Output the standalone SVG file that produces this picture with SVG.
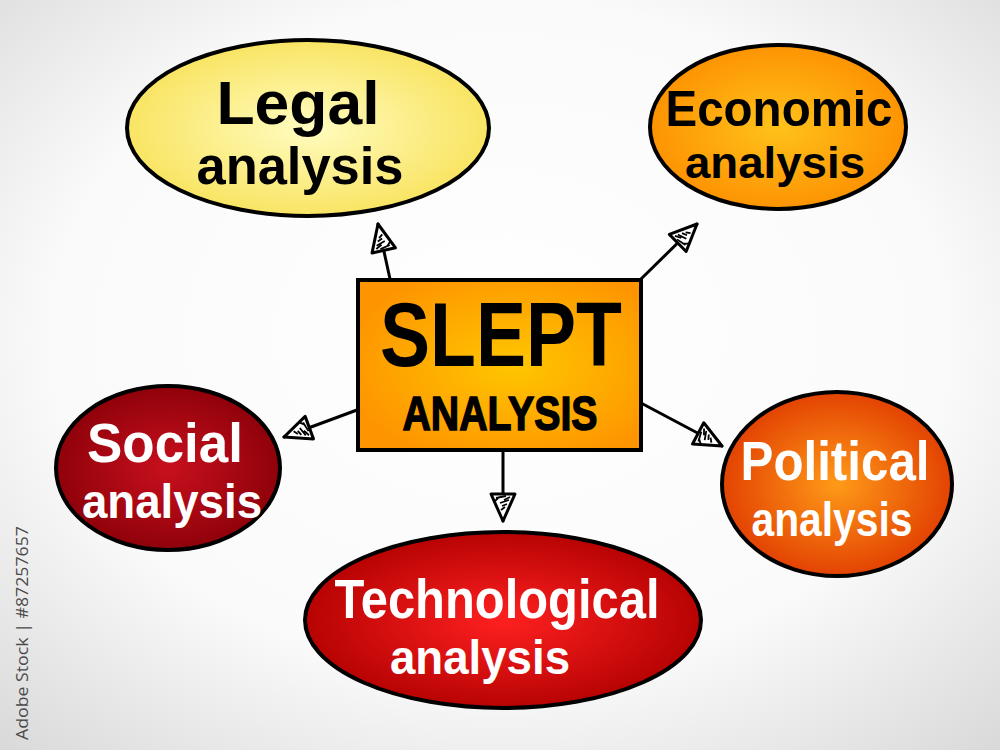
<svg xmlns="http://www.w3.org/2000/svg" width="1000" height="750" viewBox="0 0 1000 750">
<defs>
<radialGradient id="bg" cx="50%" cy="45%" r="75%">
<stop offset="0" stop-color="#ffffff"/><stop offset="0.6" stop-color="#fafafa"/><stop offset="1" stop-color="#d8d8d8"/>
</radialGradient>
<radialGradient id="gLegal" cx="50%" cy="50%" r="55%">
<stop offset="0" stop-color="#fffcc0"/><stop offset="1" stop-color="#f8e25a"/>
</radialGradient>
<radialGradient id="gEcon" cx="50%" cy="50%" r="55%">
<stop offset="0" stop-color="#ffc21a"/><stop offset="1" stop-color="#fd8f00"/>
</radialGradient>
<radialGradient id="gSlept" cx="55%" cy="50%" r="60%">
<stop offset="0" stop-color="#ffc600"/><stop offset="1" stop-color="#fe9500"/>
</radialGradient>
<radialGradient id="gSocial" cx="50%" cy="50%" r="55%">
<stop offset="0" stop-color="#c8101e"/><stop offset="1" stop-color="#8a0008"/>
</radialGradient>
<radialGradient id="gPol" cx="50%" cy="50%" r="55%">
<stop offset="0" stop-color="#ff9a18"/><stop offset="1" stop-color="#e03a00"/>
</radialGradient>
<radialGradient id="gTech" cx="50%" cy="50%" r="55%">
<stop offset="0" stop-color="#ff2020"/><stop offset="1" stop-color="#b00000"/>
</radialGradient>
<marker id="arr" viewBox="0 0 32 32" refX="30" refY="16" markerWidth="32" markerHeight="32" markerUnits="userSpaceOnUse" orient="auto">
<path d="M3,4 L30,16 L3,28 Z" fill="#fff" stroke="#000" stroke-width="3" stroke-linejoin="round"/>
<path d="M6,9 L9,15 M9,10 L12,19 M13,12 L15,17 M6,20 L10,24 M16,14 L19,18 M5,13 L7,23" stroke="#000" stroke-width="1.8"/>
</marker>
<style>
.node{stroke:#000;stroke-width:4}
.dk{font-family:"Liberation Sans",Arial,sans-serif;font-weight:700;fill:#000;text-anchor:middle}
.wt{font-family:"Liberation Sans",Arial,sans-serif;font-weight:700;fill:#fff;text-anchor:middle}
.conn{stroke:#000;stroke-width:3;fill:none;stroke-linecap:round}
</style>
</defs>
<rect width="1000" height="750" fill="url(#bg)"/>
<g id="connectors">
<line class="conn" x1="390" y1="279" x2="378" y2="224" marker-end="url(#arr)"/>
<line class="conn" x1="641" y1="279" x2="697" y2="224" marker-end="url(#arr)"/>
<line class="conn" x1="357" y1="410" x2="284" y2="437" marker-end="url(#arr)"/>
<line class="conn" x1="641" y1="403" x2="722" y2="446" marker-end="url(#arr)"/>
<line class="conn" x1="503" y1="450" x2="503" y2="521" marker-end="url(#arr)"/>
</g>
<g id="legal">
<ellipse class="node" cx="308" cy="128" rx="181" ry="88" fill="url(#gLegal)"/>
<text class="dk" x="298" y="124" font-size="62" textLength="163" lengthAdjust="spacingAndGlyphs">Legal</text>
<text class="dk" x="300" y="184" font-size="51" textLength="207" lengthAdjust="spacingAndGlyphs">analysis</text>
</g>
<g id="economic">
<ellipse class="node" cx="778" cy="127" rx="128" ry="82" fill="url(#gEcon)"/>
<text class="dk" x="779" y="126" font-size="50" textLength="227" lengthAdjust="spacingAndGlyphs">Economic</text>
<text class="dk" x="775" y="178" font-size="45" textLength="180" lengthAdjust="spacingAndGlyphs">analysis</text>
</g>
<g id="slept">
<rect class="node" x="358" y="280" width="283" height="170" fill="url(#gSlept)"/>
<text class="dk" x="501" y="366" font-size="90" textLength="242" lengthAdjust="spacingAndGlyphs">SLEPT</text>
<text class="dk" x="500" y="430" font-size="49" font-weight="400" stroke="#000" stroke-width="1.5" textLength="195" lengthAdjust="spacingAndGlyphs">ANALYSIS</text>
</g>
<g id="social">
<ellipse class="node" cx="168" cy="468" rx="112" ry="82" fill="url(#gSocial)"/>
<text class="wt" x="165" y="462" font-size="56" textLength="156" lengthAdjust="spacingAndGlyphs">Social</text>
<text class="wt" x="172" y="518" font-size="48" textLength="180" lengthAdjust="spacingAndGlyphs">analysis</text>
</g>
<g id="political">
<ellipse class="node" cx="837" cy="484" rx="115" ry="92" fill="url(#gPol)"/>
<text class="wt" x="835" y="480" font-size="56" textLength="189" lengthAdjust="spacingAndGlyphs">Political</text>
<text class="wt" x="832" y="536" font-size="48" textLength="161" lengthAdjust="spacingAndGlyphs">analysis</text>
</g>
<g id="technological">
<ellipse class="node" cx="503" cy="620" rx="198" ry="88" fill="url(#gTech)"/>
<text class="wt" x="497" y="618" font-size="56" textLength="325" lengthAdjust="spacingAndGlyphs">Technological</text>
<text class="wt" x="480" y="674" font-size="48" textLength="180" lengthAdjust="spacingAndGlyphs">analysis</text>
</g>
<text x="28" y="740" transform="rotate(-90 28 740)" font-family="Open Sans, DejaVu Sans, sans-serif" font-size="17" fill="#4a4a4a" textLength="214" lengthAdjust="spacingAndGlyphs">Adobe Stock | #87257657</text>
</svg>
